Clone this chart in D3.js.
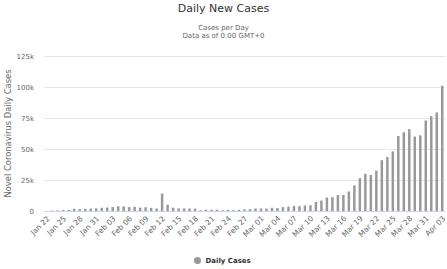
<!DOCTYPE html>
<html>
<head>
<meta charset="utf-8">
<script src="https://cdn.jsdelivr.net/npm/d3@7/dist/d3.min.js"></script>
<style>
	body { margin: 0; background: #fff; }
	svg text { font-family: "DejaVu Sans", sans-serif; }
</style>
</head>
<body>
<div id="chart"></div>
<script>
var days = ["Jan 22","Jan 23","Jan 24","Jan 25","Jan 26","Jan 27","Jan 28","Jan 29","Jan 30","Jan 31",
	"Feb 01","Feb 02","Feb 03","Feb 04","Feb 05","Feb 06","Feb 07","Feb 08","Feb 09","Feb 10",
	"Feb 11","Feb 12","Feb 13","Feb 14","Feb 15","Feb 16","Feb 17","Feb 18","Feb 19","Feb 20",
	"Feb 21","Feb 22","Feb 23","Feb 24","Feb 25","Feb 26","Feb 27","Feb 28","Feb 29",
	"Mar 01","Mar 02","Mar 03","Mar 04","Mar 05","Mar 06","Mar 07","Mar 08","Mar 09","Mar 10",
	"Mar 11","Mar 12","Mar 13","Mar 14","Mar 15","Mar 16","Mar 17","Mar 18","Mar 19","Mar 20",
	"Mar 21","Mar 22","Mar 23","Mar 24","Mar 25","Mar 26","Mar 27","Mar 28","Mar 29","Mar 30",
	"Mar 31","Apr 01","Apr 02","Apr 03"]

var dailyCases = [0, 300, 500, 700, 800, 1800, 1500, 1800, 2000, 2100,
	2600, 2800, 3200, 3900, 3700, 3200, 3400, 2700, 3000, 2500,
	2000, 14000, 5100, 2600, 2100, 2100, 2000, 1900, 500, 1000,
	1000, 1000, 600, 900, 700, 1000, 1300, 1500, 2000,
	2000, 1900, 2600, 2300, 3100, 3600, 4000, 3900, 4400, 4600,
	7300, 8400, 10900, 11200, 12900, 12900, 15700, 20600, 26500, 30000,
	29000, 32500, 41000, 43500, 48000, 60500, 63500, 66000, 60000, 61000,
	73000, 76500, 79500, 101000]

var yTicks = [0, 25000, 50000, 75000, 100000, 125000]
var yTickLabels = ["0", "25k", "50k", "75k", "100k", "125k"]
var labelStep = 3

var seriesName = "Daily Cases"
var chartTitle = "Daily New Cases"
var subtitleLines = ["Cases per Day", "Data as of 0:00 GMT+0"]
var yAxisTitle = "Novel Coronavirus Daily Cases"

document.addEventListener('DOMContentLoaded', function() {
	var width = 447, height = 269
	var left = 44, right = 445, top = 56, bottom = 211

	var svg = d3.select("#chart")
		.append("svg")
		.attr("width", width)
		.attr("height", height)

	var x = d3.scaleBand()
		.domain(days)
		.range([left, right])
		.paddingInner(0.55)
		.paddingOuter(0.275)

	var y = d3.scaleLinear()
		.domain([0, 125000])
		.range([bottom, top])

	// title + subtitle
	svg.append("text")
		.attr("x", width / 2)
		.attr("y", 12)
		.attr("text-anchor", "middle")
		.attr("fill", "#333")
		.style("font-size", "11px")
		.text(chartTitle)

	svg.selectAll(".subtitle")
		.data(subtitleLines)
		.enter()
		.append("text")
		.attr("class", "subtitle")
		.attr("x", width / 2)
		.attr("y", function(d, i) { return 30 + i * 7.5 })
		.attr("text-anchor", "middle")
		.attr("fill", "#666")
		.style("font-size", "7px")
		.text(function(d) { return d })

	// gridlines
	svg.selectAll(".grid")
		.data(yTicks.slice(1))
		.enter()
		.append("line")
		.attr("class", "grid")
		.attr("x1", left)
		.attr("x2", right)
		.attr("y1", function(d) { return Math.round(y(d)) + 0.5 })
		.attr("y2", function(d) { return Math.round(y(d)) + 0.5 })
		.attr("stroke", "#e6e6e6")
		.attr("stroke-width", 1)

	// y axis labels
	var yAxis = d3.axisLeft(y)
		.tickValues(yTicks)
		.tickFormat(function(d, i) { return yTickLabels[i] })
		.tickSize(0)
		.tickPadding(10)

	var yg = svg.append("g")
		.attr("transform", "translate(" + left + ",0)")
		.call(yAxis)
	yg.select(".domain").remove()
	yg.selectAll("text")
		.attr("fill", "#666")
		.style("font-size", "7px")
		.style("font-family", '"DejaVu Sans", sans-serif')

	svg.append("text")
		.attr("transform", "translate(11," + ((top + bottom) / 2) + ") rotate(-90)")
		.attr("text-anchor", "middle")
		.attr("fill", "#666")
		.style("font-size", "8.4px")
		.text(yAxisTitle)

	// bars
	svg.selectAll(".bar")
		.data(dailyCases)
		.enter()
		.append("rect")
		.attr("class", "bar")
		.attr("x", function(d, i) { return x(days[i]) })
		.attr("width", x.bandwidth())
		.attr("y", function(d) { return y(d) })
		.attr("height", function(d) { return bottom - y(d) })
		.attr("fill", "#999")

	// x axis
	svg.append("line")
		.attr("x1", left)
		.attr("x2", right)
		.attr("y1", bottom + 0.5)
		.attr("y2", bottom + 0.5)
		.attr("stroke", "#ccd6eb")

	var xAxis = d3.axisBottom(x)
		.tickValues(days.filter(function(d, i) { return i % labelStep == 0 }))
		.tickSize(0)
		.tickPadding(0)

	var xg = svg.append("g")
		.attr("transform", "translate(0," + bottom + ")")
		.call(xAxis)
	xg.select(".domain").remove()
	xg.selectAll("text")
		.attr("y", 0)
		.attr("dy", 0)
		.attr("text-anchor", "end")
		.attr("transform", "translate(3.5,8) rotate(-45)")
		.attr("fill", "#666")
		.style("font-size", "7.5px")
		.style("font-family", '"DejaVu Sans", sans-serif')

	// legend
	var legend = svg.append("g")
	legend.append("circle")
		.attr("cx", 197.5)
		.attr("cy", 260.5)
		.attr("r", 3.5)
		.attr("fill", "#999")
	legend.append("text")
		.attr("x", 205.5)
		.attr("y", 263)
		.attr("fill", "#333")
		.style("font-size", "7px")
		.style("font-weight", "bold")
		.text(seriesName)
})
</script>
</body>
</html>
